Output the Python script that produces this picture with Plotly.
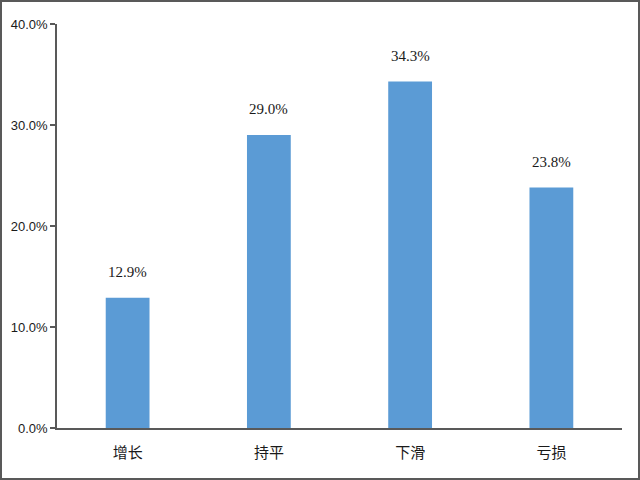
import plotly.graph_objects as go

categories = ["增长", "持平", "下滑", "亏损"]
values = [12.9, 29.0, 34.3, 23.8]
y_ticks = [0, 10, 20, 30, 40]

W, H = 640, 480
ml, mr, mt, mb = 57, 18, 24, 52
pw, ph = W - ml - mr, H - mt - mb

fig = go.Figure()
fig.add_trace(go.Bar(
    x=categories, y=values,
    marker=dict(color="#5B9BD5", line=dict(width=0)),
    width=0.31,
    hoverinfo="skip",
))

for c, v in zip(categories, values):
    fig.add_annotation(
        x=c, y=v, text=f"{v:.1f}%", showarrow=False,
        yanchor="bottom", yshift=16,
        font=dict(family="Liberation Serif, Times New Roman, serif", size=15, color="#1a1a1a"),
    )

fig.update_layout(
    width=W, height=H,
    margin=dict(l=ml, r=mr, t=mt, b=mb, autoexpand=False),
    paper_bgcolor="white", plot_bgcolor="white",
    showlegend=False,
    bargap=0.69,
    xaxis=dict(
        showline=True, linecolor="#595959", linewidth=1.5,
        ticks="", showgrid=False, automargin=False,
        ticklabelstandoff=10,
        tickfont=dict(family="Noto Sans CJK SC, sans-serif", size=15, color="#1a1a1a"),
    ),
    yaxis=dict(
        range=[0, 40], tickvals=y_ticks,
        ticktext=[f"{t:.1f}%" for t in y_ticks],
        showline=True, linecolor="#595959", linewidth=1.5,
        ticks="outside", ticklen=5, tickcolor="#595959", tickwidth=1.5,
        showgrid=False, zeroline=False, automargin=False,
        tickfont=dict(family="Liberation Sans Narrow, Arial Narrow, Liberation Sans, sans-serif", size=13, color="#1a1a1a"),
    ),
    shapes=[dict(
        type="rect", xref="paper", yref="paper",
        x0=(-ml + 1) / pw, x1=(W - ml - 1) / pw,
        y0=(-mb + 1) / ph, y1=(H - mb - 1) / ph,
        line=dict(color="#595959", width=2), layer="above",
    )],
)

fig.write_html(
    "out.html",
    config={"displayModeBar": False},
    post_script="document.body.style.margin='0';document.body.style.overflow='hidden';",
)
